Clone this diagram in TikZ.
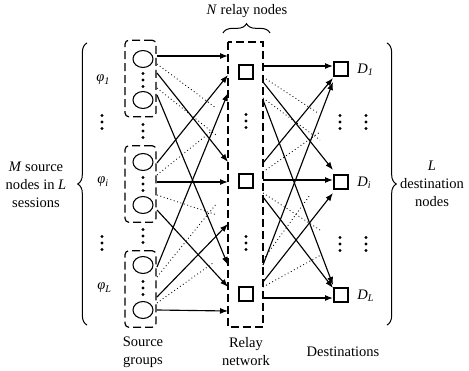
\documentclass[tikz,border=0pt]{standalone}
\usepackage{fontspec}
\setmainfont{Liberation Serif}
\usetikzlibrary{arrows.meta,shapes.geometric,decorations.pathreplacing}

\tikzset{
  srcnode/.style={draw, ellipse, minimum width=15pt, minimum height=12.75pt, inner sep=0pt, line width=0.8pt},
  sqnode/.style={draw, minimum size=10.5pt, inner sep=0pt, line width=0.8pt},
  grpbox/.style={draw, dash pattern=on 6pt off 3pt, rounded corners=3pt, minimum width=23.25pt, minimum height=57.5pt, line width=0.9pt},
  arr/.style={-{Latex[length=6pt,width=4.5pt]}, line width=0.85pt},
  faint/.style={dotted, line width=0.65pt},
  brc/.style={decorate, decoration={brace, amplitude=7pt}, line width=0.75pt},
  lbl/.style={font=\fontsize{10.9}{13.5}\selectfont, align=center, inner sep=0pt}
}

\begin{document}
\begin{tikzpicture}[x=0.75pt, y=-0.75pt]
    \useasboundingbox (0,0) rectangle (469,371);

    % source groups
    \node[grpbox] (sg1) at (140.5,78.5) {};
    \node[grpbox] (sg2) at (140.5,184) {};
    \node[grpbox] (sg3) at (140.5,289) {};

    \node[srcnode] (s1a) at (143,59) {};
    \node[srcnode] (s1b) at (143,100) {};
    \node[srcnode] (s2a) at (143,162) {};
    \node[srcnode] (s2b) at (143,205) {};
    \node[srcnode] (s3a) at (143,265) {};
    \node[srcnode] (s3b) at (143,310) {};

    % relay network
    \draw[line width=0.9pt, dash pattern=on 6pt off 3pt] (228,42) rectangle (263,327);
    \node[sqnode] (r1) at (246,72) {};
    \node[sqnode] (ri) at (246,181) {};
    \node[sqnode] (rL) at (246,294) {};

    % destinations
    \node[sqnode] (d1) at (341,69) {};
    \node[sqnode] (di) at (341,182) {};
    \node[sqnode] (dL) at (341,295) {};

    % vertical dots
    \foreach \x/\y in {143/80,143/131,143/184,143/236,143/288,102/122,102/243,
                       246/121,246/243,340/122,366/122,340/244,366/244}
        \foreach \d in {-6.5,0,6.5}
            \fill (\x,\y+\d) circle[radius=1.15pt];

    % sources -> relays
    \foreach \a/\b [count=\k] in {56/56,73/162,95/265,163/75,182/182,210/287,267/93,297/224,310/311}{
        \coordinate (sa\k) at (157,\a);
        \coordinate (ra\k) at (228,\b);
        \draw[arr] (sa\k) -- (ra\k);
    }
    \foreach \a/\u/\v [count=\k] in {64/216/108,88/216/135,175/213/130,195/217/215,277/217/203,303/213/263}{
        \coordinate (sd\k) at (157,\a);
        \coordinate (se\k) at (\u,\v);
        \draw[faint] (sd\k) -- (se\k);
    }

    % relays -> destinations
    \foreach \a/\b [count=\k] in {66/66,82/170,100/285,163/78,180/180,197/288,265/82,282/193,298/298}{
        \coordinate (rb\k) at (263,\a);
        \coordinate (da\k) at (333,\b);
        \draw[arr] (rb\k) -- (da\k);
    }
    \foreach \a/\u/\v [count=\k] in {77/318/113,98/320/140,172/320/132,193/320/230,260/310/195,287/321/255}{
        \coordinate (rd\k) at (263,\a);
        \coordinate (re\k) at (\u,\v);
        \draw[faint] (rd\k) -- (re\k);
    }

    % braces
    \draw[brc] (87,325) -- (87,43);
    \draw[brc] (223,33) -- (270,33);
    \draw[brc] (387,43) -- (387,325);

    % labels
    \node[lbl] (ntxt) at (247,11) {\textit{N} relay nodes};
    \node[lbl] (mtxt) at (36,185) {\textit{M} source\\nodes in \textit{L}\\sessions};
    \node[lbl] (ltxt) at (432,184) {\textit{L}\\destination\\nodes};

    \node[lbl, anchor=west] (phi1) at (96,80) {\textit{φ}\textsubscript{\textit{1}}};
    \node[lbl, anchor=west] (phii) at (97,182) {\textit{φ}\textsubscript{\textit{i}}};
    \node[lbl, anchor=west] (phiL) at (97,288) {\textit{φ}\textsubscript{\textit{L}}};

    \node[lbl, anchor=west] (dl1) at (357,70) {\textit{D}\textsubscript{\textit{1}}};
    \node[lbl, anchor=west] (dli) at (357,183) {\textit{D}\textsubscript{\textit{i}}};
    \node[lbl, anchor=west] (dlL) at (357,296) {\textit{D}\textsubscript{\textit{L}}};

    \node[lbl] (srclbl) at (143,352) {Source\\groups};
    \node[lbl] (rlylbl) at (246,352) {Relay\\network};
    \node[lbl] (dstlbl) at (343,352) {Destinations};
\end{tikzpicture}
\end{document}
